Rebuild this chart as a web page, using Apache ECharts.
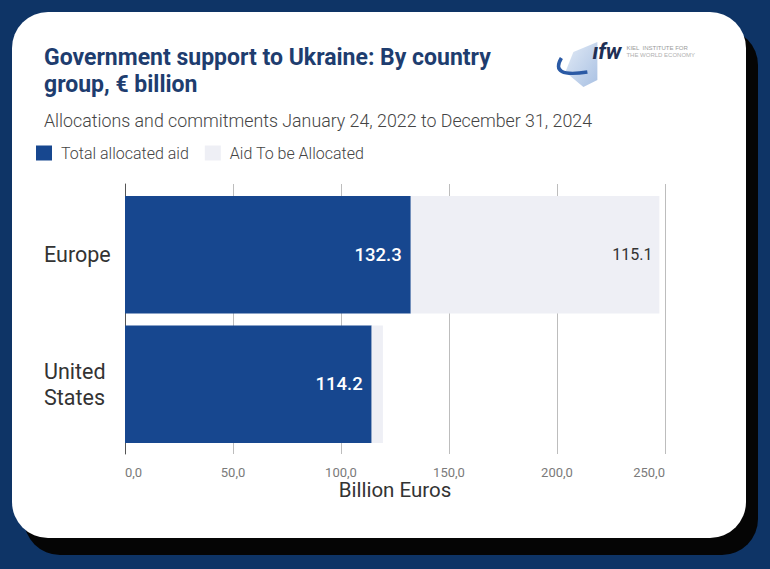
<!DOCTYPE html>
<html>
<head>
<meta charset="utf-8">
<script src="https://cdn.jsdelivr.net/npm/echarts@6/dist/echarts.min.js"></script>
<style>
  html, body { margin: 0; padding: 0; width: 770px; height: 569px; overflow: hidden; background: #0e3466; }
  #card { position: absolute; left: 12px; top: 12px; width: 734px; height: 526px; background: #fff;
          border-radius: 36px; box-shadow: 12px 17px 0 #050505; }
  #main { position: absolute; left: 0; top: 0; width: 770px; height: 569px; }
</style>
</head>
<body>
<div id="card"></div>
<div id="main"></div>
<script>
// data
const groups = ['Europe', 'United States']
const allocated = [132.3, 114.2]
const toBeAllocated = [115.1, 5.2]
const seriesNames = ['Total allocated aid', 'Aid To be Allocated']
const xTicks = { min: 0, max: 250, step: 50 }

const font = 'Roboto, "Noto Sans", sans-serif'
const blue = '#17478f'
const light = '#eeeff5'

const chart = echarts.init(document.getElementById('main'), null, { renderer: 'svg' })

chart.setOption({
  backgroundColor: 'transparent',
  textStyle: { fontFamily: font },
  title: [
    {
      text: 'Government support to Ukraine: By country\ngroup, € billion',
      left: 44, top: 44, padding: 0,
      textStyle: { fontSize: 23, fontWeight: 'bold', color: '#1e3d6f', lineHeight: 27, fontFamily: font }
    },
    {
      text: 'Allocations and commitments January 24, 2022 to December 31, 2024',
      left: 44, top: 111, padding: 0,
      textStyle: { fontSize: 17.8, fontWeight: 300, color: '#444', fontFamily: font }
    }
  ],
  legend: {
    left: 36, top: 145, padding: 0,
    icon: 'rect',
    itemWidth: 16, itemHeight: 15, itemGap: 16,
    selectedMode: false,
    textStyle: { fontSize: 16, fontWeight: 300, color: '#444', padding: [0, 0, 0, 4] },
    data: seriesNames
  },
  // grid 0 carries the gridlines and tick labels, grid 1 the bars
  grid: [
    { left: 125, right: 105, top: 184, height: 270 },
    { left: 125, right: 105, top: 190, height: 259 }
  ],
  xAxis: [
    {
      gridIndex: 0,
      type: 'value',
      min: xTicks.min, max: xTicks.max, interval: xTicks.step,
      axisLine: { show: false },
      axisTick: { show: false },
      splitLine: { lineStyle: { color: '#bdbdbd', width: 1 } },
      axisLabel: {
        margin: 12, fontSize: 13, color: '#7a7a7a',
        alignMinLabel: 'left', alignMaxLabel: 'right',
        formatter: v => v.toFixed(1).replace('.', ',')
      },
      name: 'Billion Euros',
      nameLocation: 'middle',
      nameGap: 25,
      nameTextStyle: { fontSize: 20.5, color: '#333', verticalAlign: 'top' }
    },
    {
      gridIndex: 1,
      type: 'value',
      min: xTicks.min, max: xTicks.max,
      show: false
    }
  ],
  yAxis: [
    {
      gridIndex: 0,
      type: 'category',
      data: groups,
      axisLine: { show: true, lineStyle: { color: '#555', width: 1 } },
      axisTick: { show: false },
      axisLabel: { show: false }
    },
    {
      gridIndex: 1,
      type: 'category',
      inverse: true,
      data: groups,
      axisLine: { show: false },
      axisTick: { show: false },
      axisLabel: {
        align: 'left', margin: 81, fontSize: 21.5, color: '#333', lineHeight: 26,
        formatter: v => v.replace(' ', '\n')
      }
    }
  ],
  series: [
    {
      name: seriesNames[0],
      type: 'bar',
      stack: 'aid',
      xAxisIndex: 1, yAxisIndex: 1,
      barCategoryGap: '9.3%',
      data: allocated,
      itemStyle: { color: blue },
      label: {
        show: true, position: 'insideRight', distance: 9,
        color: '#fff', fontSize: 18.5, fontWeight: 500,
        formatter: p => p.value.toFixed(1)
      }
    },
    {
      name: seriesNames[1],
      type: 'bar',
      stack: 'aid',
      xAxisIndex: 1, yAxisIndex: 1,
      data: toBeAllocated,
      itemStyle: { color: light },
      label: {
        show: true, position: 'insideRight', distance: 7,
        color: '#333', fontSize: 16,
        formatter: p => (p.value > 20 ? p.value.toFixed(1) : '')
      }
    }
  ],
  graphic: [
    {
      type: 'group', left: 556, top: 40,
      children: [
        { type: 'polygon', shape: { points: [[44, 2], [20, 12], [12, 32], [30, 47], [44, 40]] },
          style: { fill: new echarts.graphic.LinearGradient(0, 0, 1, 1, [
            { offset: 0, color: '#e3ebf6' }, { offset: 1, color: '#a9c1e3' }]) } },
        { type: 'bezierCurve', shape: { x1: 8, y1: 18, cpx1: -4, cpy1: 38, x2: 34, y2: 32 },
          style: { stroke: '#2b5aa5', lineWidth: 3.5, fill: null } },
        { type: 'text', x: 39, y: 0,
          style: { text: 'ıfw', fontSize: 22, fontWeight: 'bold', fontStyle: 'italic', fill: '#1e2f55', fontFamily: font } },
        { type: 'text', x: 73, y: 5,
          style: { text: 'KIEL  INSTITUTE FOR', fontSize: 6, fill: '#9a9a9a' } },
        { type: 'text', x: 73, y: 12,
          style: { text: 'THE WORLD ECONOMY', fontSize: 6, fill: '#b0b0b0' } }
      ]
    }
  ]
})
</script>
</body>
</html>
